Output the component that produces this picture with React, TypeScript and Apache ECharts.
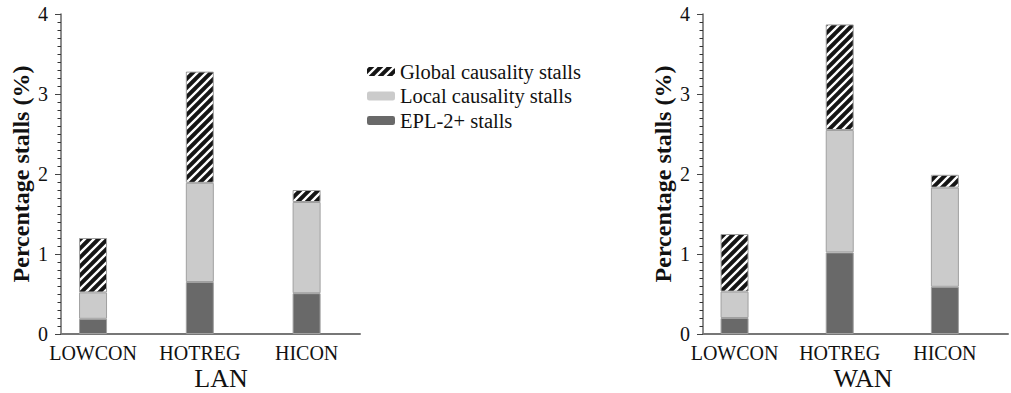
import React, { useEffect, useRef } from "react";
import * as echarts from "echarts";

const categories = ["LOWCON", "HOTREG", "HICON"];
const seriesNames = ["Global causality stalls", "Local causality stalls", "EPL-2+ stalls"];
const lanEpl = [0.19, 0.65, 0.51];
const lanLocal = [0.33, 1.24, 1.14];
const lanGlobal = [0.68, 1.39, 0.15];
const wanEpl = [0.2, 1.02, 0.59];
const wanLocal = [0.33, 1.53, 1.24];
const wanGlobal = [0.72, 1.32, 0.16];
const yTicks = [0, 1, 2, 3, 4];
const panelTitles = ["LAN", "WAN"];

// fine category slots: each real category sits on slot 3, 13, 23
const slotIndex = [3, 13, 23];
const slotCounts = [29, 30];

const FONT = "Liberation Serif";

const hatchSvg =
  '<svg xmlns="http://www.w3.org/2000/svg" width="9" height="9">' +
  '<rect width="9" height="9" fill="#151515"/>' +
  '<path d="M-1.5,1.5 L1.5,-1.5 M0,9 L9,0 M7.5,10.5 L10.5,7.5" stroke="#ffffff" stroke-width="2.3"/>' +
  "</svg>";
const hatch = {
  image: "data:image/svg+xml;charset=utf-8," + encodeURIComponent(hatchSvg),
  repeat: "repeat",
  imageWidth: 9,
  imageHeight: 9,
};

const colors = [hatch, "#cbcbcb", "#696969"];

function slotCats(n: number) {
  const arr: string[] = new Array(n).fill("");
  slotIndex.forEach((s, i) => (arr[s] = categories[i]));
  return arr;
}
function slotVals(vals: number[], n: number) {
  const arr: (number | null)[] = new Array(n).fill(null);
  slotIndex.forEach((s, i) => (arr[s] = vals[i]));
  return arr;
}

export default function App() {
  const ref = useRef<HTMLDivElement>(null);
  useEffect(() => {
    if (!ref.current) return;
    const chart = echarts.init(ref.current, null, { renderer: "svg" });

    const mkX = (idx: number) => ({
      type: "category",
      gridIndex: idx,
      boundaryGap: false,
      data: slotCats(slotCounts[idx]),
      axisLine: { show: true, lineStyle: { color: "#777", width: 2 } },
      axisTick: { show: false },
      splitLine: { show: false },
      axisLabel: {
        interval: 0,
        fontSize: 20,
        color: "#111",
        fontFamily: FONT,
        margin: 9,
      },
    });
    const mkY = (idx: number) => ({
      type: "value",
      gridIndex: idx,
      min: yTicks[0],
      max: yTicks[yTicks.length - 1],
      interval: 1,
      name: "Percentage stalls (%)",
      nameLocation: "middle",
      nameGap: 28,
      nameTextStyle: { fontSize: 24, fontWeight: "bold", color: "#111", fontFamily: FONT },
      axisLine: { show: true, onZero: false, lineStyle: { color: "#666", width: 1.5 } },
      axisTick: { show: true, length: 6, lineStyle: { color: "#444" } },
      minorTick: { show: true, splitNumber: 10, length: 3.5, lineStyle: { color: "#333" } },
      splitLine: { show: false },
      axisLabel: { fontSize: 20, color: "#111", fontFamily: FONT, margin: 13 },
    });

    const stacks = [
      [lanGlobal, lanLocal, lanEpl],
      [wanGlobal, wanLocal, wanEpl],
    ];
    const series: any[] = [];
    stacks.forEach((grp, gi) => {
      [2, 1, 0].forEach((si) => {
        series.push({
          type: "bar",
          name: seriesNames[si],
          xAxisIndex: gi,
          yAxisIndex: gi,
          stack: "s" + gi,
          barWidth: 28,
          data: slotVals(grp[si], slotCounts[gi]),
          itemStyle: { color: colors[si], borderColor: "#a0a0a0", borderWidth: 1 },
        });
      });
    });

    chart.setOption({
      animation: false,
      backgroundColor: "#fff",
      textStyle: { fontFamily: FONT },
      grid: [
        { left: 61, top: 14, width: 299, height: 320 },
        { left: 703, top: 14, width: 308, height: 320 },
      ],
      xAxis: [mkX(0), mkX(1)],
      yAxis: [mkY(0), mkY(1)],
      legend: {
        orient: "vertical",
        left: 362,
        top: 56,
        itemWidth: 28,
        itemHeight: 9,
        itemGap: 3.5,
        data: seriesNames,
        itemStyle: { borderWidth: 0 },
        textStyle: { fontSize: 20.5, color: "#111", fontFamily: FONT, lineHeight: 20 },
        selectedMode: false,
      },
      graphic: [
        {
          type: "text",
          x: 221,
          y: 378,
          style: { text: panelTitles[0], fontSize: 26, fontFamily: FONT, fill: "#111", align: "center", verticalAlign: "middle" },
        },
        {
          type: "text",
          x: 863,
          y: 378,
          style: { text: panelTitles[1], fontSize: 26, fontFamily: FONT, fill: "#111", align: "center", verticalAlign: "middle" },
        },
      ],
      series,
    });
    return () => chart.dispose();
  }, []);
  return (
    <div
      ref={ref}
      style={{ position: "fixed", left: 0, top: 0, width: 1011, height: 393, background: "#fff" }}
    />
  );
}
